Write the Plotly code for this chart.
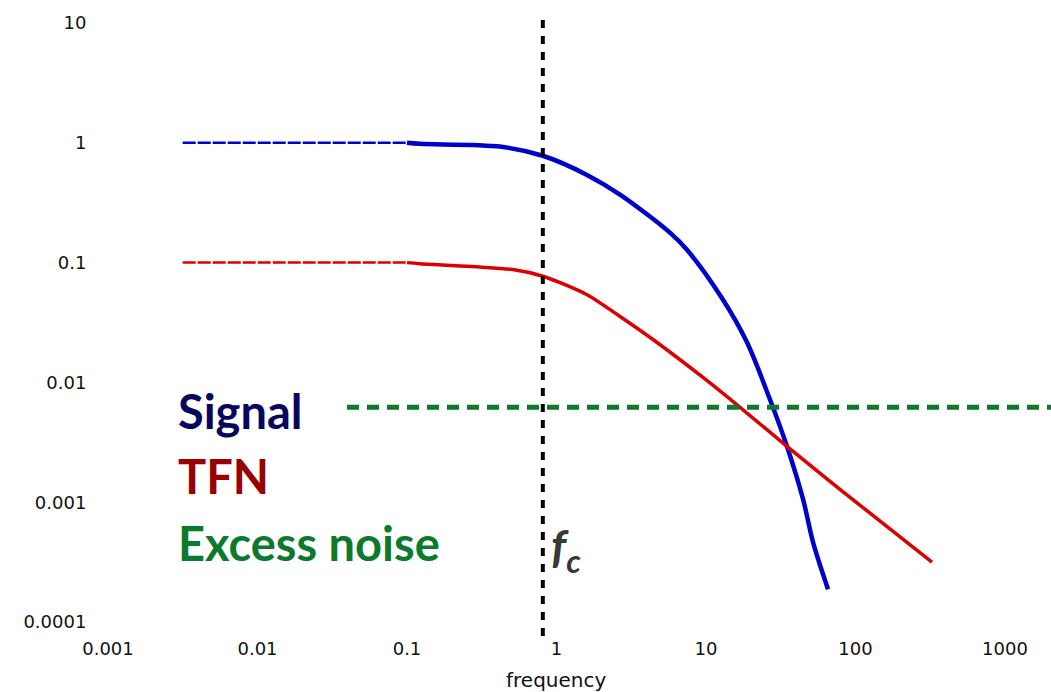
import numpy as np
import plotly.graph_objects as go

# Low-frequency plateau (drawn dashed) for both curves
plateau_freq = [0.00316, 0.1]
signal_plateau = [1.0, 1.0]
tfn_plateau = [0.1, 0.1]

# Signal roll-off
signal_freq = [0.1, 0.122, 0.419, 0.81, 1.6, 2.66, 5.74, 7.46, 13.0, 18.8, 26.8, 34.8, 44.6, 52.0, 65.5]
signal_amp = [1.0, 0.98, 0.93, 0.78, 0.54, 0.37, 0.178, 0.128, 0.049, 0.0216, 0.0072, 0.00293, 0.00106, 0.000464, 0.000188]

# Thermal fluctuation noise roll-off
tfn_freq = [0.1, 0.122, 0.51, 0.81, 1.6, 2.66, 4.42, 9.55, 16.9, 34.8, 78.7, 325]
tfn_amp = [0.1, 0.098, 0.0875, 0.0769, 0.054, 0.0355, 0.0228, 0.011, 0.0062, 0.00293, 0.00128, 0.000316]

# Flat excess-noise level
excess_freq = [0.0397, 3000]
excess_amp = [0.0062, 0.0062]

# Corner frequency
f_c = 0.81

x_tickvals = [0.001, 0.01, 0.1, 1, 10, 100, 1000]
x_ticktext = ["0.001", "0.01", "0.1", "1", "10", "100", "1000"]
y_tickvals = [0.0001, 0.001, 0.01, 0.1, 1, 10]
y_ticktext = ["0.0001", "0.001", "0.01", "0.1", "1", "10"]

BLUE = "#0000cc"
RED = "#dd0000"
GREEN = "#0b7a2c"

W, H = 1051, 692
M_L, M_R, M_T, M_B = 108, 0, 15, 70
PW, PH = W - M_L - M_R, H - M_T - M_B


def px_x(px):
    return (px - M_L) / PW


def px_y(py):
    return (H - M_B - py) / PH


fig = go.Figure()

fig.add_trace(go.Scatter(x=plateau_freq, y=signal_plateau, mode="lines",
                         line=dict(color=BLUE, width=2.5, dash="13px,2px")))
fig.add_trace(go.Scatter(x=plateau_freq, y=tfn_plateau, mode="lines",
                         line=dict(color=RED, width=2.5, dash="13px,2px")))
fig.add_trace(go.Scatter(x=signal_freq, y=signal_amp, mode="lines",
                         line=dict(color=BLUE, width=4.5, shape="spline", smoothing=0.9)))
fig.add_trace(go.Scatter(x=tfn_freq, y=tfn_amp, mode="lines",
                         line=dict(color=RED, width=3.5, shape="spline", smoothing=0.8)))
fig.add_trace(go.Scatter(x=excess_freq, y=excess_amp, mode="lines",
                         line=dict(color=GREEN, width=5, dash="12px,8px")))

# Vertical dotted marker at the corner frequency, running a little below the axis
fig.add_shape(type="line", xref="x", yref="paper",
              x0=f_c, x1=f_c, y0=px_y(636), y1=1.0,
              line=dict(color="black", width=4, dash="8px,8px"))

label_font = "Lato, 'Open Sans', sans-serif"
for text, color, ypix in [("Signal", "#06065f", 411), ("TFN", "#990000", 476),
                          ("Excess noise", GREEN, 543)]:
    fig.add_annotation(text=f"<b>{text}</b>", xref="paper", yref="paper",
                       x=px_x(176), y=px_y(ypix),
                       xanchor="left", yanchor="middle", showarrow=False,
                       font=dict(family=label_font, size=47, color=color))

fig.add_annotation(text="<b><i>f</i></b><sub><b><i>c</i></b></sub>",
                   xref="paper", yref="paper",
                   x=px_x(549), y=px_y(549),
                   xanchor="left", yanchor="middle", showarrow=False,
                   font=dict(family=label_font, size=46, color="#383838"))

fig.add_annotation(text="frequency", xref="paper", yref="paper",
                   x=px_x(556), y=px_y(680),
                   xanchor="center", yanchor="middle", showarrow=False,
                   font=dict(family="DejaVu Sans", size=20, color="#111111"))

fig.update_layout(
    width=W, height=H, autosize=False,
    margin=dict(l=M_L, r=M_R, t=M_T, b=M_B),
    paper_bgcolor="white", plot_bgcolor="white",
    showlegend=False,
    font=dict(family="DejaVu Sans", size=18, color="#111111"),
    xaxis=dict(type="log", range=[-3, 3.308], tickvals=x_tickvals, ticktext=x_ticktext,
               showgrid=False, zeroline=False, showline=False,
               ticks="outside", ticklen=10, tickcolor="rgba(0,0,0,0)"),
    yaxis=dict(type="log", range=[-4, 1.067], tickvals=y_tickvals, ticktext=y_ticktext,
               showgrid=False, zeroline=False, showline=False,
               ticks="outside", ticklen=17, tickcolor="rgba(0,0,0,0)"),
)

fig.write_html("out.html")
